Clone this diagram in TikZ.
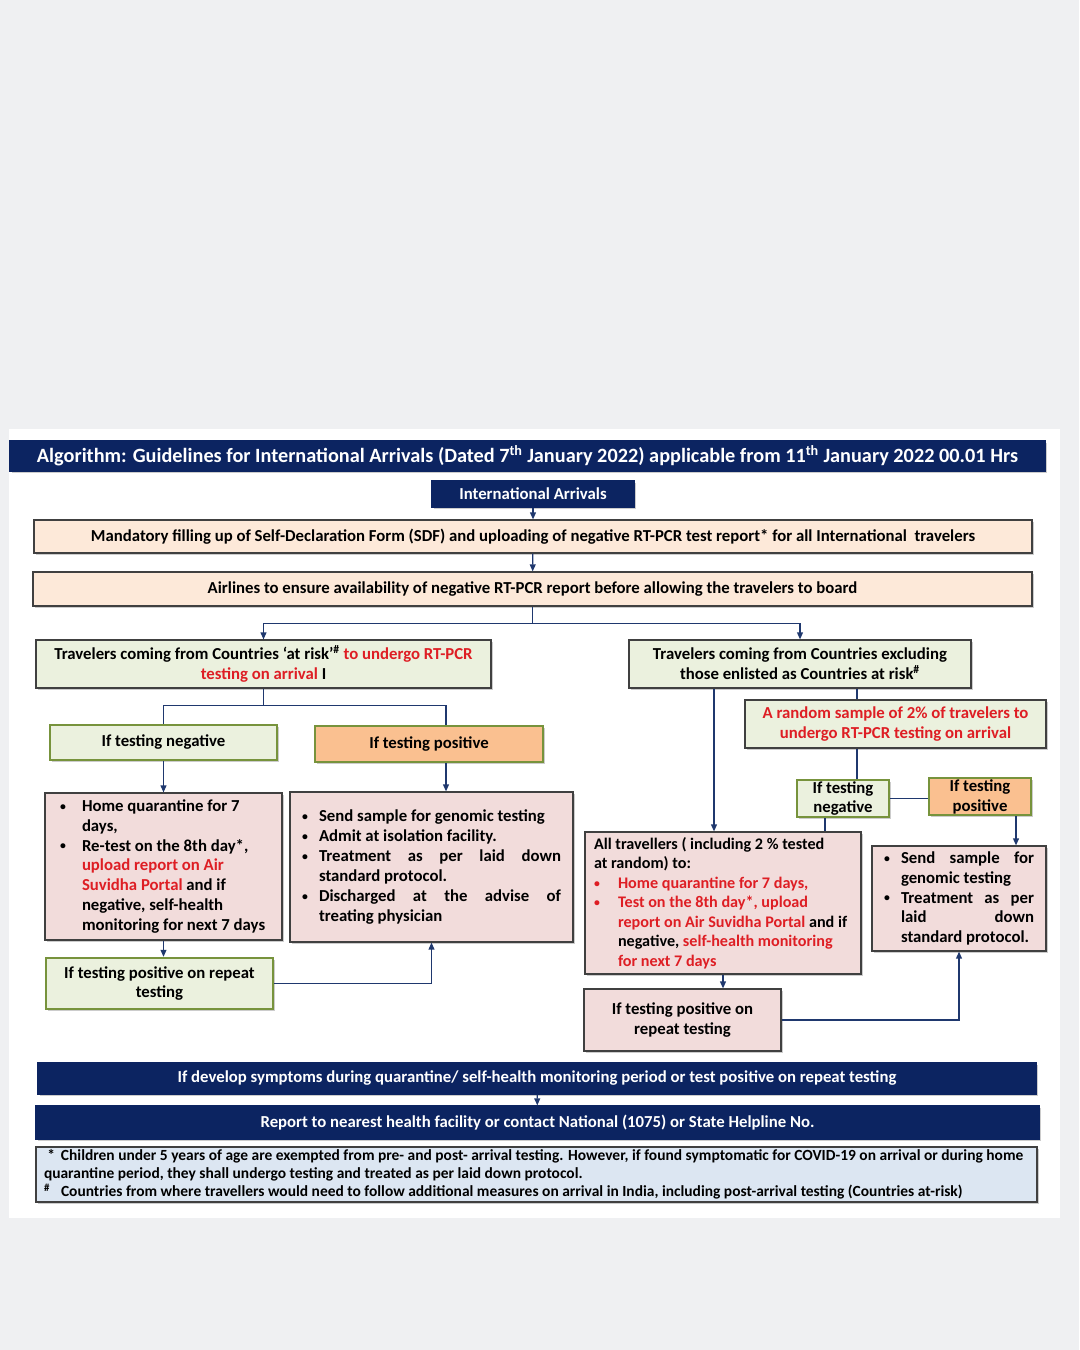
\documentclass[tikz,border=0pt]{standalone}
\usepackage{fontspec}
\setmainfont{Carlito}
\usetikzlibrary{arrows.meta}
\usetikzlibrary{shadows}

\newlength\px
\setlength\px{0.03cm}

\definecolor{navy}{RGB}{12,36,97}
\definecolor{peach}{RGB}{253,233,217}
\definecolor{sage}{RGB}{235,241,222}
\definecolor{leaf}{RGB}{119,147,60}
\definecolor{apricot}{RGB}{250,192,144}
\definecolor{blush}{RGB}{242,220,219}
\definecolor{mist}{RGB}{220,230,242}
\definecolor{alert}{RGB}{222,30,36}
\definecolor{wire}{RGB}{31,56,110}
\definecolor{frame}{RGB}{64,64,64}
\definecolor{paper}{RGB}{239,240,242}

\newcommand\red[1]{\textcolor{alert}{#1}}
\newcommand\bul[1][22]{\makebox[#1\px][l]{\raisebox{1pt}{\fontsize{10}{10}\selectfont\textbullet}}}
\newcommand\ind[1][22]{\hspace*{#1\px}}
\newcommand\just[2]{\hbox to #1\px{#2}}

\tikzset{
	base/.style={draw=frame, line width=1pt, inner sep=0pt, align=center,
		font=\bfseries\fontsize{14.3}{17}\selectfont,
		execute at begin node={\spaceskip=0pt\xspaceskip=0pt},
		drop shadow={shadow xshift=2pt, shadow yshift=-2pt, opacity=.4}},
	navybox/.style={base, fill=navy, draw=navy, text=white},
	peachbox/.style={base, fill=peach},
	sagebox/.style={base, fill=sage},
	leafbox/.style={base, fill=sage, draw=leaf, line width=2pt},
	apribox/.style={base, fill=apricot, draw=leaf, line width=2pt},
	blushbox/.style={base, fill=blush},
	notebox/.style={base, fill=mist, align=left, font=\bfseries\fontsize{13.2}{15.4}\selectfont},
	link/.style={draw=wire, line width=1.1pt},
	flow/.style={link, -{Triangle[length=6pt,width=5pt]}}
}

\begin{document}
\begin{tikzpicture}[x=0.03cm, y=-0.03cm]
	% page
	\fill[paper] (0,0) rectangle (1079,1350);
	\fill[white] (9,429) rectangle (1060,1218);

	% top of the chart
	\node (title) [navybox, minimum width=1035\px, minimum height=30\px,
		font=\bfseries\fontsize{17.3}{20}\selectfont] at (527.5,456)
		{Algorithm: Guidelines for International Arrivals (Dated 7\textsuperscript{th} January 2022) applicable from 11\textsuperscript{th} January 2022 00.01 Hrs};
	\node (arr) [navybox, minimum width=202\px, minimum height=26\px] at (533,494) {International Arrivals};
	\node (sdf) [peachbox, minimum width=998\px, minimum height=33\px] at (533,536.5)
		{Mandatory filling up of Self-Declaration Form (SDF) and uploading of negative RT-PCR test report* for all International\ \ travelers};
	\node (air) [peachbox, minimum width=999\px, minimum height=34\px] at (532.5,589)
		{Airlines to ensure availability of negative RT-PCR report before allowing the travelers to board};

	% two groups of travellers
	\node (risk) [sagebox, minimum width=455\px, minimum height=48\px] at (263.5,664)
		{Travelers coming from Countries ‘at risk’\textsuperscript{\#} \red{to undergo RT-PCR}\\ \red{testing on arrival} I};
	\node (excl) [sagebox, minimum width=342\px, minimum height=48\px] at (800,664)
		{Travelers coming from Countries excluding\\ those enlisted as Countries at risk\textsuperscript{\#}};

	% at risk branch
	\node (neg) [leafbox, minimum width=227\px, minimum height=35\px] at (163.5,742.5) {If testing negative};
	\node (pos) [apribox, minimum width=228\px, minimum height=36\px] at (429,744) {If testing positive};
	\node (negcare) [blushbox, align=left, text width=207\px, inner xsep=15\px, minimum height=147\px] at (163.5,866.5)
		{\bul Home quarantine for 7\\
		\ind days,\\
		\bul Re-test on the 8th day*,\\
		\ind\red{upload report on Air}\\
		\ind\red{Suvidha Portal} and if\\
		\ind negative, self-health\\
		\ind monitoring for next 7 days};
	\node (poscare) [blushbox, align=left, text width=259\px, inner xsep=12\px, minimum height=150\px] at (431.5,867)
		{\bul[17]Send sample for genomic testing\\
		\bul[17]Admit at isolation facility.\\
		\bul[17]\just{242}{Treatment\hfill as\hfill per\hfill laid\hfill down}\\
		\ind[17]standard protocol.\\
		\bul[17]\just{242}{Discharged\hfill at\hfill the\hfill advise\hfill of}\\
		\ind[17]treating physician};
	\node (negrep) [leafbox, minimum width=227\px, minimum height=51\px] at (159.5,983.5)
		{If testing positive on repeat\\ testing};

	% other countries branch
	\node (rand) [sagebox, minimum width=301\px, minimum height=48\px] at (895.5,724)
		{\red{A random sample of 2\% of travelers to}\\ \red{undergo RT-PCR testing on arrival}};
	\node (sneg) [leafbox, minimum width=92\px, minimum height=37\px] at (843,798.5) {If testing\\ negative};
	\node (spos) [apribox, minimum width=102\px, minimum height=37\px] at (980,796.5) {If testing\\ positive};
	\node (alltr) [blushbox, align=left, text width=258\px, inner xsep=9\px, minimum height=142\px,
		font=\bfseries\fontsize{13.8}{16.6}\selectfont] at (723,903)
		{All travellers ( including 2 \% tested\\
		at random) to:\\
		\red{\bul[24]Home quarantine for 7 days,}\\
		\red{\bul[24]Test on the 8th day*, upload}\\
		\ind[24]\red{report on Air Suvidha Portal} and if\\
		\ind[24]negative, \red{self-health monitoring}\\
		\ind[24]\red{for next 7 days}};
	\node (rpos) [blushbox, align=left, text width=150\px, inner xsep=12\px, minimum height=105\px] at (959,898.5)
		{\bul[17]\just{133}{Send\hfill sample\hfill for}\\
		\ind[17]genomic testing\\
		\bul[17]\just{133}{Treatment\hfill as\hfill per}\\
		\ind[17]\just{133}{laid\hfill down}\\
		\ind[17]standard protocol.};
	\node (allrep) [blushbox, minimum width=197\px, minimum height=62\px] at (682.5,1020)
		{If testing positive on\\ repeat testing};

	% bottom bars and notes
	\node (sym) [navybox, minimum width=998\px, minimum height=31\px] at (537,1078.5)
		{If develop symptoms during quarantine/ self-health monitoring period or test positive on repeat testing};
	\node (rep) [navybox, minimum width=1003\px, minimum height=33\px] at (537.5,1122.5)
		{Report to nearest health facility or contact National (1075) or State Helpline No.};
	\node (note) [notebox, text width=985\px, inner xsep=8\px, minimum height=55\px] at (536.5,1174.5)
		{\makebox[17\px][l]{\ *}Children under 5 years of age are exempted from pre- and post- arrival testing. However, if found symptomatic for COVID-19 on arrival or during home\\
		quarantine period, they shall undergo testing and treated as per laid down protocol.\\
		\makebox[17\px][l]{\textsuperscript{\#}}Countries from where travellers would need to follow additional measures on arrival in India, including post-arrival testing (Countries at-risk)};

	% connectors
	\coordinate (c1) at (857,0);
	\coordinate (c2) at (825,0);
	\coordinate (c3) at (1016,0);
	\draw[flow] (arr) -- (sdf);
	\draw[flow] (sdf) -- (air);
	\draw[link] (air.south) -- ++(0,17) coordinate (split);
	\draw[flow] (split) -| (risk.north);
	\draw[flow] (split) -| (excl.north);
	\draw[link] (risk.south) -- ++(0,17) coordinate (rsplit);
	\draw[link] (rsplit) -| (neg.north);
	\draw[link] (rsplit) -| ([xshift=17\px]pos.north);
	\draw[flow] (neg.south) -- (neg.south |- negcare.north);
	\draw[flow] ([xshift=17\px]pos.south) -- ([xshift=17\px]pos.south |- poscare.north);
	\draw[flow] (negcare.south) -- (negcare.south |- negrep.north);
	\draw[flow] (negrep.east) -| (poscare.south);
	\draw[flow] ([xshift=-86\px]excl.south) -- ([xshift=-86\px]excl.south |- alltr.north);
	\draw[link] (excl.south -| c1) -- (rand.north -| c1);
	\draw[link] (rand.south -| c1) -- (sneg.north -| c1);
	\draw[link] (sneg.east) -- (sneg.east -| spos.west);
	\draw[link] (sneg.south -| c2) -- (alltr.north -| c2);
	\draw[flow] (spos.south -| c3) -- (rpos.north -| c3);
	\draw[flow] (alltr.south) -- (alltr.south |- allrep.north);
	\draw[flow] (allrep.east) -| (rpos.south);
	\draw[flow] (sym) -- (rep);
\end{tikzpicture}
\end{document}
